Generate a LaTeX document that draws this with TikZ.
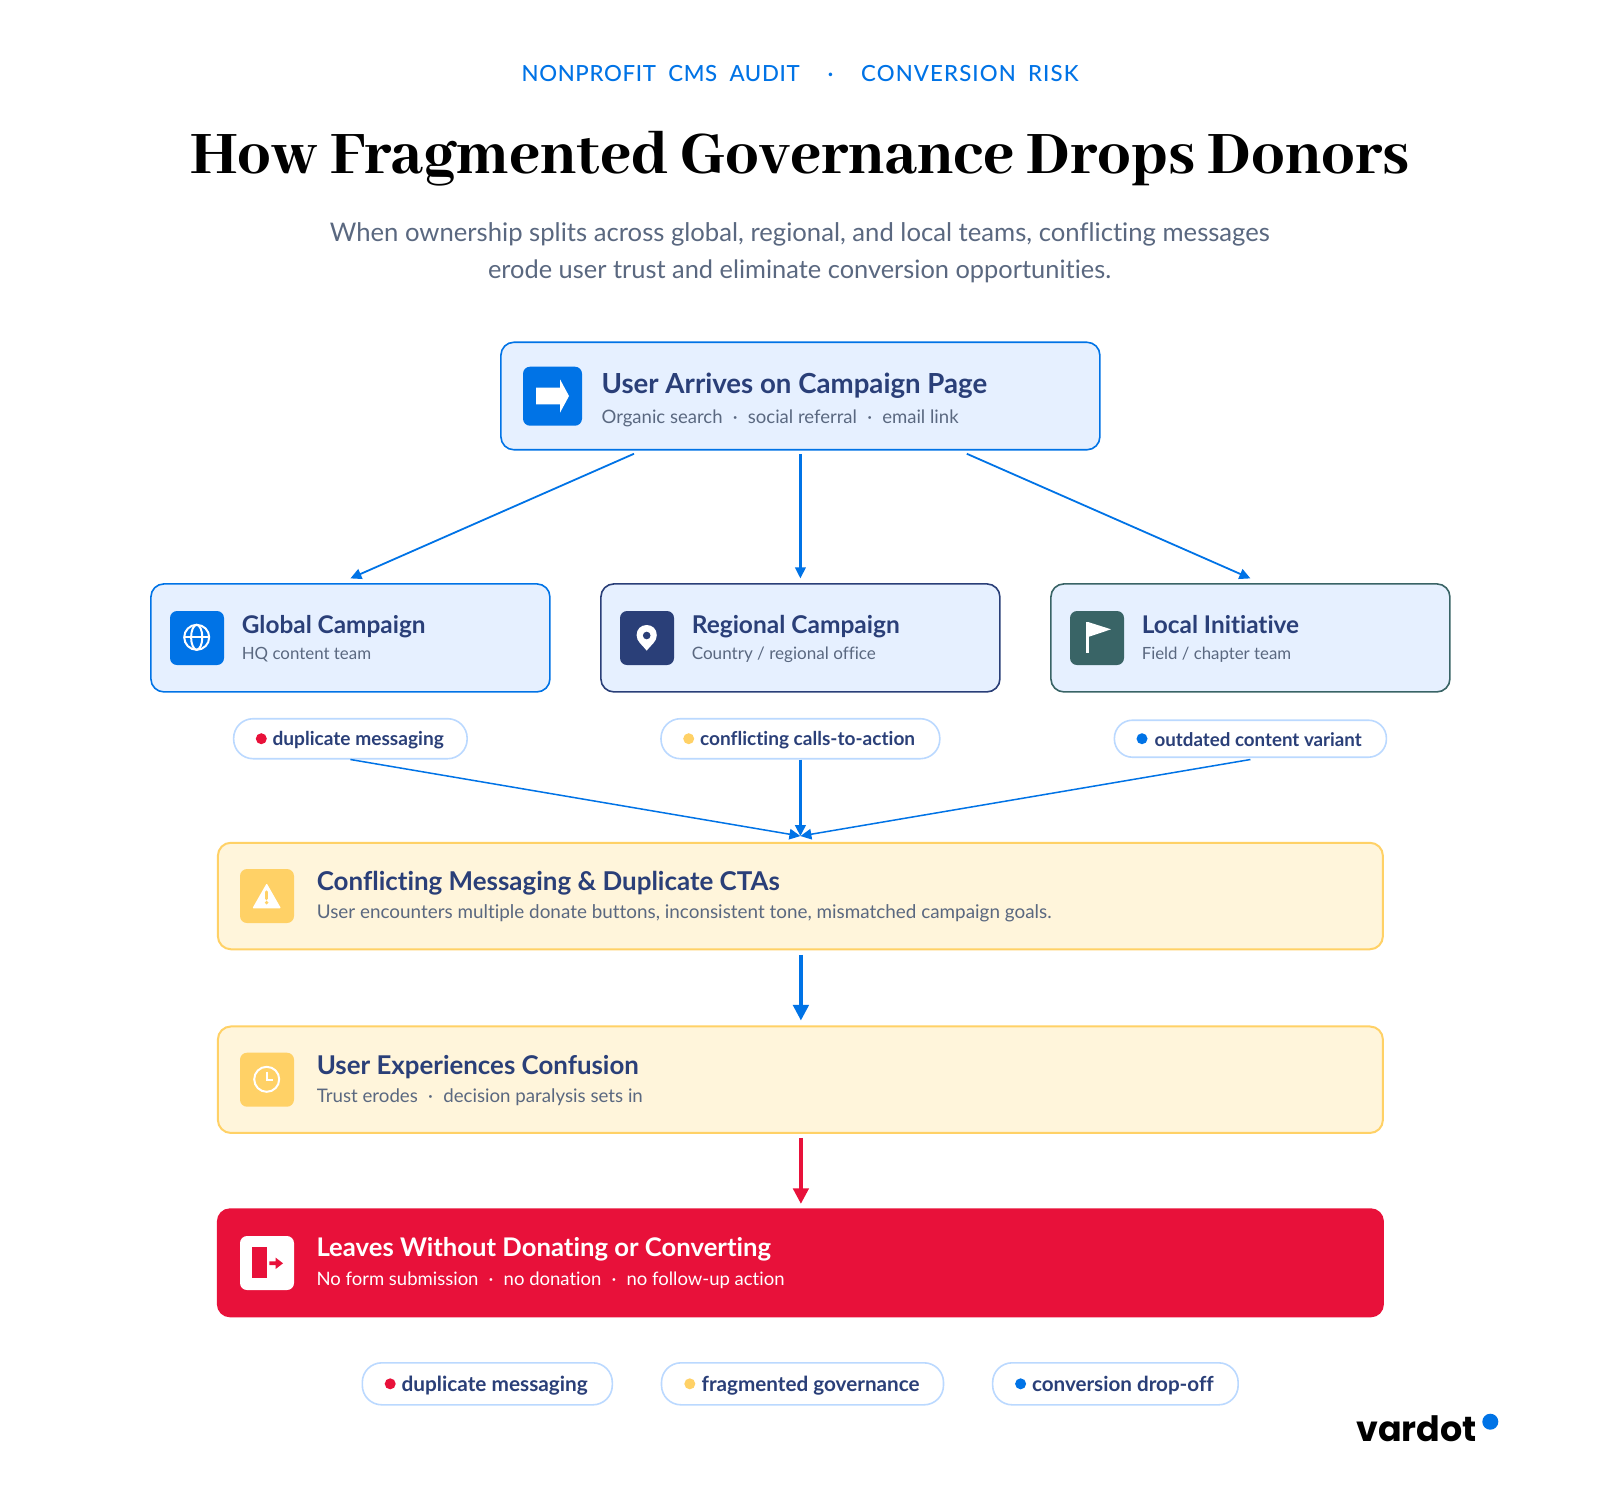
\documentclass[tikz,border=0pt]{standalone}
\usepackage{fontspec}
\usepackage{graphicx}
\usetikzlibrary{arrows.meta}
\setmainfont[Ligatures=NoCommon]{Lato}
\newfontfamily\headfont[LetterSpace=3,Ligatures=NoCommon]{Lato Medium}
\newfontfamily\titlefont{Abhaya Libre ExtraBold}
\newfontfamily\logofont{Poppins}
\definecolor{brandblue}{HTML}{0073E6}
\definecolor{navy}{HTML}{2A3F78}
\definecolor{forest}{HTML}{396466}
\definecolor{paleblue}{HTML}{E6F0FF}
\definecolor{amber}{HTML}{FFD166}
\definecolor{cream}{HTML}{FFF5DB}
\definecolor{crimson}{HTML}{E8113A}
\definecolor{pillline}{HTML}{BBD9FF}
\definecolor{slate}{HTML}{5A6880}
\newcommand\fitw[2]{\resizebox{#1pt}{!}{#2}}
\newcommand\txt[6]{\node[tx,#5] (#1) at (#2,#3) {\fitw{#4}{#6}};}
\newcommand\sep{\hspace{.55em}·\hspace{.55em}}
\tikzset{
  tx/.style={inner sep=0pt,outer sep=0pt,anchor=base west},
  box/.style={draw,rounded corners=13pt,line width=1.6pt,fill=paleblue,inner sep=0pt},
  wide/.style={draw=amber,rounded corners=13pt,line width=2pt,fill=cream,inner sep=0pt,minimum width=1165pt,minimum height=106.5pt},
  tile/.style={rounded corners=7pt,minimum width=54pt,minimum height=54pt,inner sep=0pt},
  pill/.style={draw=pillline,fill=white,line width=1.6pt,rounded corners=19.5pt,inner sep=0pt},
  dot/.style={circle,minimum size=11pt,inner sep=0pt},
  ttl/.style={text=navy,font=\bfseries},
  subt/.style={text=slate},
  pilltx/.style={text=navy,font=\bfseries},
  thin/.style={draw=brandblue,line width=1.8pt,-{Triangle[length=11pt,width=10.5pt]}},
  thick/.style={line width=3.2pt,-{Triangle[length=15.5pt,width=15.5pt]}},
}
\begin{document}
\begin{tikzpicture}[x=1pt,y=-1pt]
\useasboundingbox (0,0) rectangle (1600,1500);
\fill[white] (0,0) rectangle (1600,1500);
% header
\txt{kick}{521.6}{81.7}{556.8}{text=brandblue}{\headfont NONPROFIT\hspace{.55em}CMS\hspace{.55em}AUDIT\hspace{1.25em}·\hspace{1.25em}\addfontfeature{LetterSpace=5}CONVERSION\hspace{.55em}RISK}
\txt{head}{190}{173.2}{1220}{text=black}{\titlefont How Fragmented Governance Drops Donors}
\txt{lede1}{329.8}{241.5}{940}{subt}{When ownership splits across global, regional, and local teams, conflicting messages}
\txt{lede2}{488}{278}{623}{subt}{erode user trust and eliminate conversion opportunities.}
% top box
\node[box,draw=brandblue,minimum width=599pt,minimum height=107.5pt] (top) at (800.4,396) {};
\node[tile,fill=brandblue,minimum width=59pt,minimum height=59pt] (topicon) at (552.5,396.2) {};
\fill[white] (536,387.7) -- (560,387.7) -- (560,379.3) -- (569,396) -- (560,412.7) -- (560,404.3) -- (536,404.3) -- cycle;
\txt{toptitle}{601.6}{393.5}{385.5}{ttl}{User Arrives on Campaign Page}
\txt{topsub}{601.6}{423.7}{357}{subt}{Organic search\sep social referral\sep email link}
% three campaign boxes
\node[box,draw=brandblue,minimum width=399pt,minimum height=108pt] (global) at (350.4,637.9) {};
\node[box,draw=navy,minimum width=399pt,minimum height=108pt] (regional) at (800.4,637.9) {};
\node[box,draw=forest,minimum width=399pt,minimum height=108pt] (local) at (1250.4,637.9) {};
\node[tile,fill=brandblue] (globalicon) at (197,638) {};
\node[tile,fill=navy] (regionalicon) at (647,638) {};
\node[tile,fill=forest] (localicon) at (1097,638) {};
% globe
\draw[white,line width=2pt] (196.7,637.3) circle[radius=12.5];
\draw[white,line width=2pt] (196.7,637.3) ellipse[x radius=5.6,y radius=12.5];
\draw[white,line width=2pt] (184.2,637.3) -- (209.2,637.3);
% pin
\fill[white] (646.7,650.7) .. controls (642,644.5) and (636.6,641.5) .. (636.6,635.2) .. controls (636.6,629) and (641,625) .. (646.7,625) .. controls (652.4,625) and (656.8,629) .. (656.8,635.2) .. controls (656.8,641.5) and (651.4,644.5) .. (646.7,650.7) -- cycle;
\fill[navy] (646.7,635.5) circle[radius=3.8];
% flag
\fill[white] (1085.7,621.7) rectangle (1089.3,652.7);
\fill[white] (1089,622.3) -- (1111,629.3) -- (1089,636.7) -- cycle;
\txt{globaltitle}{241.8}{633.7}{183.7}{ttl}{Global Campaign}
\txt{globalsub}{241.8}{659.3}{129.3}{subt}{HQ content team}
\txt{regionaltitle}{691.8}{633.7}{208}{ttl}{Regional Campaign}
\txt{regionalsub}{691.8}{659.3}{184}{subt}{Country / regional office}
\txt{localtitle}{1141.8}{633.7}{157.3}{ttl}{Local Initiative}
\txt{localsub}{1141.8}{659.3}{149.3}{subt}{Field / chapter team}
% pills
\node[pill,minimum width=233.5pt,minimum height=40pt] (pa) at (350.4,738.7) {};
\node[pill,minimum width=278.8pt,minimum height=40pt] (pb) at (800.4,738.7) {};
\node[pill,minimum width=272pt,minimum height=37pt,rounded corners=18pt] (pc) at (1250.4,738.7) {};
\node[dot,fill=crimson] (pad) at (261.3,738.7) {};
\node[dot,fill=amber] (pbd) at (688.7,738.7) {};
\node[dot,fill=brandblue] (pcd) at (1142,738.7) {};
\txt{pat}{272.5}{745.4}{171.3}{pilltx}{duplicate messaging}
\txt{pbt}{700.1}{745.4}{215}{pilltx}{conflicting calls-to-action}
\txt{pct}{1154.5}{746.6}{207.3}{pilltx}{outdated content variant}
% wide boxes
\node[wide] (conflict) at (800.4,896) {};
\node[wide] (confuse) at (800.4,1079.7) {};
\node[rounded corners=13pt,fill=crimson,inner sep=0pt,minimum width=1167pt,minimum height=109pt] (leave) at (800.4,1262.8) {};
\node[tile,fill=amber] (conflicticon) at (267,896) {};
\node[tile,fill=amber] (confuseicon) at (267,1079.7) {};
\node[tile,fill=white] (leaveicon) at (267,1263) {};
% warning
\fill[white,rounded corners=1pt] (266.7,883.3) -- (281,908.3) -- (252.4,908.3) -- cycle;
\draw[amber,line width=3.4pt,line cap=round] (266.7,892) -- (266.7,898.6);
\fill[amber] (266.7,902.6) circle[radius=1.9];
% clock
\draw[white,line width=2pt] (266.7,1079.3) circle[radius=12.5];
\draw[white,line width=2pt] (266.7,1071.7) -- (266.7,1080.3) -- (273.3,1080.3);
% exit
\fill[crimson] (251.8,1247.3) rectangle (266.5,1278);
\fill[crimson] (269.4,1261.4) -- (275.5,1261.4) -- (275.5,1257.5) -- (283,1263.3) -- (275.5,1269.1) -- (275.5,1265.2) -- (269.4,1265.2) -- cycle;
\txt{conflicttitle}{316.8}{890.3}{463}{ttl}{Conflicting Messaging \& Duplicate CTAs}
\txt{conflictsub}{316.8}{918}{734.7}{subt}{User encounters multiple donate buttons, inconsistent tone, mismatched campaign goals.}
\txt{confusetitle}{316.8}{1074}{322}{ttl}{User Experiences Confusion}
\txt{confusesub}{316.8}{1102}{326}{subt}{Trust erodes\sep decision paralysis sets in}
\txt{leavetitle}{316.5}{1256}{454.5}{text=white,font=\bfseries}{Leaves Without Donating or Converting}
\txt{leavesub}{316.5}{1285}{468}{text=white}{No form submission\sep no donation\sep no follow-up action}
% bottom pills
\node[pill,minimum width=250pt,minimum height=42pt] (qa) at (487.3,1383.8) {};
\node[pill,minimum width=282pt,minimum height=42pt] (qb) at (802.5,1383.8) {};
\node[pill,minimum width=245.5pt,minimum height=42pt] (qc) at (1115.4,1383.8) {};
\node[dot,fill=crimson] (qad) at (390.2,1383.8) {};
\node[dot,fill=amber] (qbd) at (689.8,1383.8) {};
\node[dot,fill=brandblue] (qcd) at (1020.6,1383.8) {};
\txt{qat}{401.6}{1391.4}{186.2}{pilltx}{duplicate messaging}
\txt{qbt}{701.6}{1391.4}{218}{pilltx}{fragmented governance}
\txt{qct}{1032}{1391.4}{181.7}{pilltx}{conversion drop-off}
% logo
\txt{logo}{1356.4}{1441.5}{120.5}{text=black}{\logofont\bfseries vardot}
\node[circle,fill=brandblue,minimum size=16pt,inner sep=0pt] (logodot) at (1490.3,1421.7) {};
% connectors
\draw[thin] ([xshift=-166.4pt,yshift=-3.2pt]top.south) -- ([yshift=4.7pt]global.north);
\draw[thin,line width=2.2pt] ([yshift=-3.2pt]top.south) -- ([yshift=4.7pt]regional.north);
\draw[thin] ([xshift=166.4pt,yshift=-3.2pt]top.south) -- ([yshift=4.7pt]local.north);
\draw[thin,line width=1.5pt] (pa.south) -- ([yshift=5.7pt]conflict.north);
\draw[thin,line width=2.6pt] (pb.south) -- ([yshift=5.7pt]conflict.north);
\draw[thin,line width=1.5pt] ([yshift=-1.5pt]pc.south) -- ([yshift=5.7pt]conflict.north);
\draw[thick,draw=brandblue] ([xshift=.5pt,yshift=-4.6pt]conflict.south) -- ([xshift=.5pt,yshift=5pt]confuse.north);
\draw[thick,draw=crimson] ([xshift=.5pt,yshift=-4pt]confuse.south) -- ([xshift=.5pt,yshift=4.3pt]leave.north);
\end{tikzpicture}
\end{document}
